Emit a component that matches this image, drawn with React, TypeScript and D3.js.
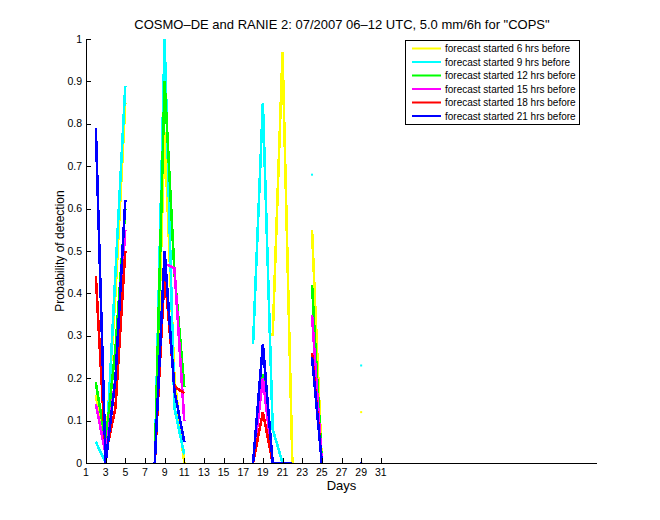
import React from "react";
import * as d3 from "d3";

const days: number[] = d3.range(1, 32);
const N = null;
// values indexed by day 1..31
const yellow6 = [N,0.16,0.03,0.4,0.85,N,N,0,0.78,0.2,0,N,N,N,N,N,N,N,N,0.3,0.97,0,N,0.55,0,N,N,N,0.12,N,N];
const cyan9 = [N,0.05,0.0,0.45,0.89,N,N,0,1.0,0.13,0.02,N,N,N,N,N,N,0.28,0.85,0.08,0,N,N,0.68,N,N,N,N,0.23,N,N];
const green12 = [N,0.19,0.05,0.27,0.6,N,N,0,0.9,0.45,0.18,N,N,N,N,N,N,0,0.21,0,0,N,N,0.42,0,N,N,N,N,N,N];
const magenta15 = [N,0.14,0.02,0.2,0.55,N,N,0,0.47,0.46,0.1,N,N,N,N,N,N,0,0.2,0,0,N,N,0.35,0,N,N,N,N,N,N];
const red18 = [N,0.44,0.02,0.13,0.5,N,N,0,0.45,0.18,0.165,N,N,N,N,N,N,0,0.12,0,0,N,N,0.26,0,N,N,N,N,N,N];
const blue21 = [N,0.79,0.0,0.2,0.62,N,N,0,0.5,0.17,0.05,N,N,N,N,N,N,0,0.28,0,0,0,N,0.25,0,N,N,N,0,N,N];

const seriesNames = [
  "forecast started 6 hrs before",
  "forecast started 9 hrs before",
  "forecast started 12 hrs before",
  "forecast started 15 hrs before",
  "forecast started 18 hrs before",
  "forecast started 21 hrs before",
];
const seriesValues = [yellow6, cyan9, green12, magenta15, red18, blue21];
const seriesColors = ["#ffff00", "#00ffff", "#00ff00", "#ff00ff", "#ff0000", "#0000ff"];

const xTicks = d3.range(1, 32, 2);
const yTicks = d3.range(0, 11).map((v) => v / 10);

const title = "COSMO\u2013DE and RANIE 2: 07/2007 06\u201312 UTC, 5.0 mm/6h for \"COPS\"";

export default function App() {
  const W = 660, H = 520;
  const left = 86, right = 597, top = 39, bottom = 463;
  const x = d3.scaleLinear().domain([1, 53]).range([left, right]);
  const y = d3.scaleLinear().domain([0, 1]).range([bottom, top]);
  const font = "'Liberation Sans', Arial, Helvetica, sans-serif";

  const line = d3
    .line<number | null>()
    .defined((d) => d !== null)
    .x((_, i) => x(days[i]))
    .y((d) => y(d as number));

  return (
    <svg width={W} height={H} style={{ position: "absolute", left: 0, top: 0, background: "#fff" }} fontFamily={font}>
      <rect x={0} y={0} width={W} height={H} fill="#fff" />
      {seriesValues.map((vals, si) => (
        <g key={si}>
          <path d={line(vals) || ""} fill="none" stroke={seriesColors[si]} strokeWidth={2.6} strokeLinejoin="miter" shapeRendering="crispEdges" />
          {vals.map((v, i) => {
            if (v === null) return null;
            const prev = i > 0 ? vals[i - 1] : null;
            const next = i < vals.length - 1 ? vals[i + 1] : null;
            if (prev !== null || next !== null) return null;
            return <rect key={i} x={x(days[i]) - 1} y={y(v) - 1} width={2} height={2} fill={seriesColors[si]} />;
          })}
        </g>
      ))}
      {/* axes */}
      <line x1={left} x2={right} y1={bottom + 0.5} y2={bottom + 0.5} stroke="#000" strokeWidth={1} />
      <line x1={left + 0.5} x2={left + 0.5} y1={top} y2={bottom} stroke="#000" strokeWidth={1} />
      {xTicks.map((t) => (
        <g key={t}>
          <line x1={Math.round(x(t)) + 0.5} x2={Math.round(x(t)) + 0.5} y1={bottom} y2={bottom - 5} stroke="#000" />
          <text x={x(t)} y={476} fontSize={10.5} textAnchor="middle">{t}</text>
        </g>
      ))}
      {yTicks.map((t) => (
        <g key={t}>
          <line x1={left} x2={left + 5} y1={Math.round(y(t)) + 0.5} y2={Math.round(y(t)) + 0.5} stroke="#000" />
          <text x={82} y={y(t) + 3.5} fontSize={10.5} textAnchor="end">{t === 0 || t === 1 ? String(t) : t.toFixed(1)}</text>
        </g>
      ))}
      <text x={341.5} y={490} fontSize={13} textAnchor="middle">Days</text>
      <text transform={`translate(64,${(top + bottom) / 2}) rotate(-90)`} fontSize={12} textAnchor="middle">Probability of detection</text>
      <text x={342} y={29} fontSize={13} textAnchor="middle">{title}</text>
      {/* legend */}
      <rect x={405.5} y={40.5} width={174} height={84} fill="#fff" stroke="#000" strokeWidth={1} />
      {seriesNames.map((n, i) => {
        const ly = 48.5 + i * 13.5;
        return (
          <g key={i}>
            <line x1={412} x2={441} y1={ly} y2={ly} stroke={seriesColors[i]} strokeWidth={2} />
            <text x={445} y={ly + 3.5} fontSize={10}>{n}</text>
          </g>
        );
      })}
    </svg>
  );
}
